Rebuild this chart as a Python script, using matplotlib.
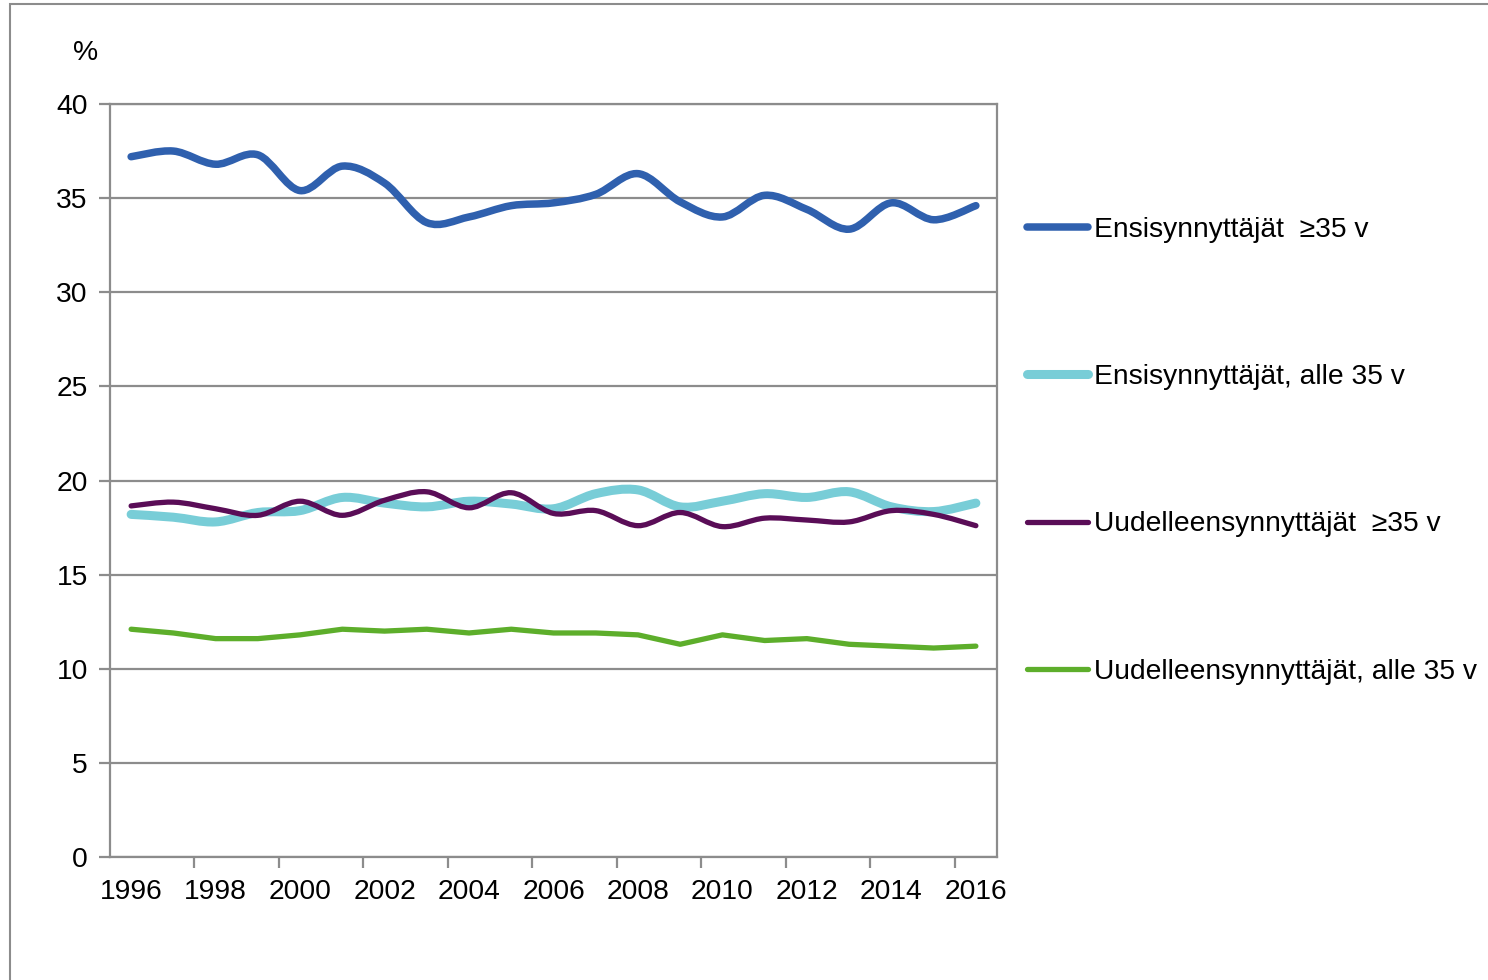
import numpy as np
import matplotlib
matplotlib.use("Agg")
import matplotlib.pyplot as plt
from matplotlib.path import Path
from matplotlib.patches import PathPatch, Rectangle
from matplotlib.lines import Line2D

plt.rcParams["font.family"] = ["Liberation Sans", "DejaVu Sans"]

# === Data (per cent) ===
years = list(range(1996, 2017))
first_35plus = [37.2, 37.5, 36.8, 37.3, 35.4, 36.7, 35.8, 33.7, 34.0, 34.6, 34.75,
                35.2, 36.3, 34.8, 34.0, 35.15, 34.4, 33.35, 34.75, 33.85, 34.6]
first_under35 = [18.2, 18.05, 17.8, 18.3, 18.4, 19.1, 18.8, 18.6, 18.9, 18.75, 18.5,
                 19.3, 19.5, 18.6, 18.9, 19.3, 19.1, 19.4, 18.6, 18.35, 18.8]
re_35plus = [18.65, 18.85, 18.5, 18.15, 18.9, 18.15, 18.95, 19.4, 18.55, 19.35, 18.25,
             18.4, 17.6, 18.3, 17.55, 18.0, 17.9, 17.8, 18.4, 18.2, 17.6]
re_under35 = [12.1, 11.9, 11.6, 11.6, 11.8, 12.1, 12.0, 12.1, 11.9, 12.1, 11.9,
              11.9, 11.8, 11.3, 11.8, 11.5, 11.6, 11.3, 11.2, 11.1, 11.2]

labels = ["Ensisynnyttäjät  \u226535 v", "Ensisynnyttäjät, alle 35 v",
          "Uudelleensynnyttäjät  \u226535 v", "Uudelleensynnyttäjät, alle 35 v"]
colors = ["#2F60AE", "#78CDD7", "#5A0D57", "#5DAE2B"]
widths = [5.4, 6.5, 3.8, 3.8]
smooth = [True, True, True, False]

FS = 20.3


def smooth_path(x, y):
    """Excel-like smoothed line as a cubic Bezier path (Catmull-Rom control points)."""
    pts = np.column_stack([x, y]).astype(float)
    n = len(pts)
    verts = [pts[0]]
    codes = [Path.MOVETO]
    for i in range(n - 1):
        p0 = pts[i - 1] if i > 0 else pts[i]
        p1 = pts[i]
        p2 = pts[i + 1]
        p3 = pts[i + 2] if i + 2 < n else pts[i + 1]
        verts += [p1 + (p2 - p0) / 6, p2 - (p3 - p1) / 6, p2]
        codes += [Path.CURVE4] * 3
    return Path(verts, codes)


fig = plt.figure(figsize=(14.88, 9.8), dpi=100)
ax = fig.add_axes([110 / 1488, 1 - 857 / 980, (997 - 110) / 1488, (857 - 104) / 980])

x = np.arange(len(years))
series = [first_35plus, first_under35, re_35plus, re_under35]
# draw in order so purple sits above cyan, as in the original
for vals, c, lw, sm in zip(series, colors, widths, smooth):
    if sm:
        ax.add_patch(PathPatch(smooth_path(x, vals), fill=False, edgecolor=c, lw=lw,
                               capstyle="round", joinstyle="round", zorder=3))
    else:
        ax.plot(x, vals, color=c, lw=lw, solid_capstyle="round",
                solid_joinstyle="round", zorder=3)

grid_c = "#8C8C8C"
ax.set_xlim(-0.5, len(years) - 0.5)
ax.set_ylim(0, 40)
ax.set_yticks(range(0, 41, 5))
ax.yaxis.grid(True, color=grid_c, lw=1.6)
ax.set_axisbelow(True)

ax.set_xticks(x[::2])
ax.set_xticklabels([str(y) for y in years[::2]])
ax.set_xticks(np.arange(1.5, len(years) - 1, 2), minor=True)
ax.tick_params(axis="x", which="major", length=0, pad=16, labelsize=FS)
ax.tick_params(axis="x", which="minor", length=8, width=1.6, color=grid_c)
ax.tick_params(axis="y", length=8, width=1.6, color=grid_c, pad=8, labelsize=FS)

for s in ax.spines.values():
    s.set_color(grid_c)
    s.set_linewidth(1.6)

fig.text(86 / 1488, 1 - 53 / 980, "%", fontsize=FS, ha="center", va="center")

handles = [Line2D([], [], color=c, lw=lw, solid_capstyle="round") for c, lw in zip(colors, widths)]
fig.legend(handles, labels, loc="upper left", bbox_to_anchor=(1027 / 1488, 1 - 217 / 980),
           frameon=False, fontsize=FS, handlelength=2.15, handletextpad=0.22,
           labelspacing=4.3, borderpad=0, borderaxespad=0)

# chart-area border (cut off at right and bottom in the original)
fig.add_artist(Rectangle((10 / 1488, -0.1), 2, 1.1 - 4 / 980, transform=fig.transFigure,
                         fill=False, edgecolor="#8C8C8C", lw=1.5, clip_on=False))

fig.savefig("out.png", dpi=100)
